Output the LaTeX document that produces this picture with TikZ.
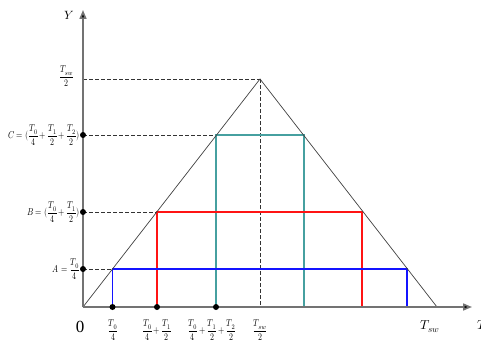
\documentclass[tikz,border=0pt]{standalone}
\usepackage{fontspec}
\setmainfont{Liberation Serif}
\usepackage{unicode-math}
\setmathfont{Latin Modern Math}
\usetikzlibrary{arrows.meta}
\newcommand{\fr}[2]{\dfrac{#1}{#2}}
\newcommand{\pl}{\mkern-1mu+\mkern-1mu}
\newcommand{\lb}[1]{\scalebox{0.8}[1]{$#1$}}
\begin{document}
\begin{tikzpicture}[x=1pt,y=-1pt,
  axis/.style={draw=gray!90!black,line width=1.6pt,-{Triangle[length=9pt,width=7pt,fill=black]}},
  tri/.style={draw=black!75,line width=0.7pt},
  guide/.style={draw=black!80,dashed,line width=0.7pt,dash pattern=on 3.5pt off 2.5pt},
  dot/.style={circle,fill=black,inner sep=0pt,minimum size=6pt},
  lbl/.style={font=\fontsize{10}{11}\selectfont,inner sep=1pt},
  cteal/.style={draw={rgb,255:red,70;green,160;blue,160},line width=1.1pt},
  cred/.style={draw={rgb,255:red,255;green,20;blue,20},line width=1.3pt},
  cblue/.style={draw={rgb,255:red,20;green,20;blue,255},line width=1.3pt}]
\useasboundingbox (0,0) rectangle (481,345);
% key points
\coordinate (O) at (83,307);
\coordinate (Ytop) at (83,10);
\coordinate (Xend) at (472,307);
\coordinate (P) at (260,79);
\coordinate (R) at (437,307);
\coordinate (Ptop) at (83,79);
\coordinate (Pbot) at (260,307);
% levels
\coordinate (A1) at (112.5,269); \coordinate (A2) at (407,269);
\coordinate (B1) at (157,212);   \coordinate (B2) at (362,212);
\coordinate (C1) at (216,135);   \coordinate (C2) at (304,135);
\coordinate (yA) at (83,269);
\coordinate (yB) at (83,212);
\coordinate (yC) at (83,135);
\coordinate (xA) at (112.5,307);
\coordinate (xB) at (157,307);
\coordinate (xC) at (216,307);
\coordinate (xA2) at (407,307);
\coordinate (xB2) at (362,307);
\coordinate (xC2) at (304,307);
% dashed guides
\draw[guide] (Ptop) -- (P);
\draw[guide] (P) -- (Pbot);
\draw[guide] (yC) -- (C1);
\draw[guide] (yB) -- (B1);
\draw[guide] (yA) -- (A1);
% coloured boxes
\draw[cteal] (xC) -- (C1) -- (C2) -- (xC2);
\draw[cred] (xB) -- (B1) -- (B2) -- (xB2);
\draw[cblue] (xA) -- (A1) -- (A2) -- (xA2);
% triangle
\draw[tri] (O) -- (P) -- (R);
% axes
\draw[axis] (O) -- (Ytop);
\draw[axis] (O) -- (Xend);
\node[dot] (dA) at (yA) {};
\node[dot] (dB) at (yB) {};
\node[dot] (dC) at (yC) {};
\node[dot] (dxA) at (xA) {};
\node[dot] (dxB) at (xB) {};
\node[dot] (dxC) at (xC) {};
% labels
\node[lbl,font=\fontsize{12}{13}\selectfont] (lY) at (69,15) {$Y$};
\node[lbl,anchor=east] (lP) at (75,76) {\lb{\fr{T_{sw}}{2}}};
\node[lbl,anchor=east] (lC) at (81,135) {\lb{C=(\fr{T_0}{4}\pl\fr{T_1}{2}\pl\fr{T_2}{2})}};
\node[lbl,anchor=east] (lB) at (81,212) {\lb{B=(\fr{T_0}{4}\pl\fr{T_1}{2})}};
\node[lbl,anchor=east] (lA) at (81,269) {\lb{A=\fr{T_0}{4}}};
\node[font=\fontsize{17}{18}\selectfont] (l0) at (80,327) {0};
\node[lbl] (x1) at (113,330) {\lb{\fr{T_0}{4}}};
\node[lbl] (x2) at (157,330) {\lb{\fr{T_0}{4}\pl\fr{T_1}{2}}};
\node[lbl] (x3) at (212,330) {\lb{\fr{T_0}{4}\pl\fr{T_1}{2}\pl\fr{T_2}{2}}};
\node[lbl] (x4) at (260,330) {\lb{\fr{T_{sw}}{2}}};
\node[lbl,font=\fontsize{13}{14}\selectfont] (x5) at (430,327) {$T_{sw}$};
\node[lbl,font=\fontsize{13}{14}\selectfont] (x6) at (482,325) {$T$};
\end{tikzpicture}
\end{document}
